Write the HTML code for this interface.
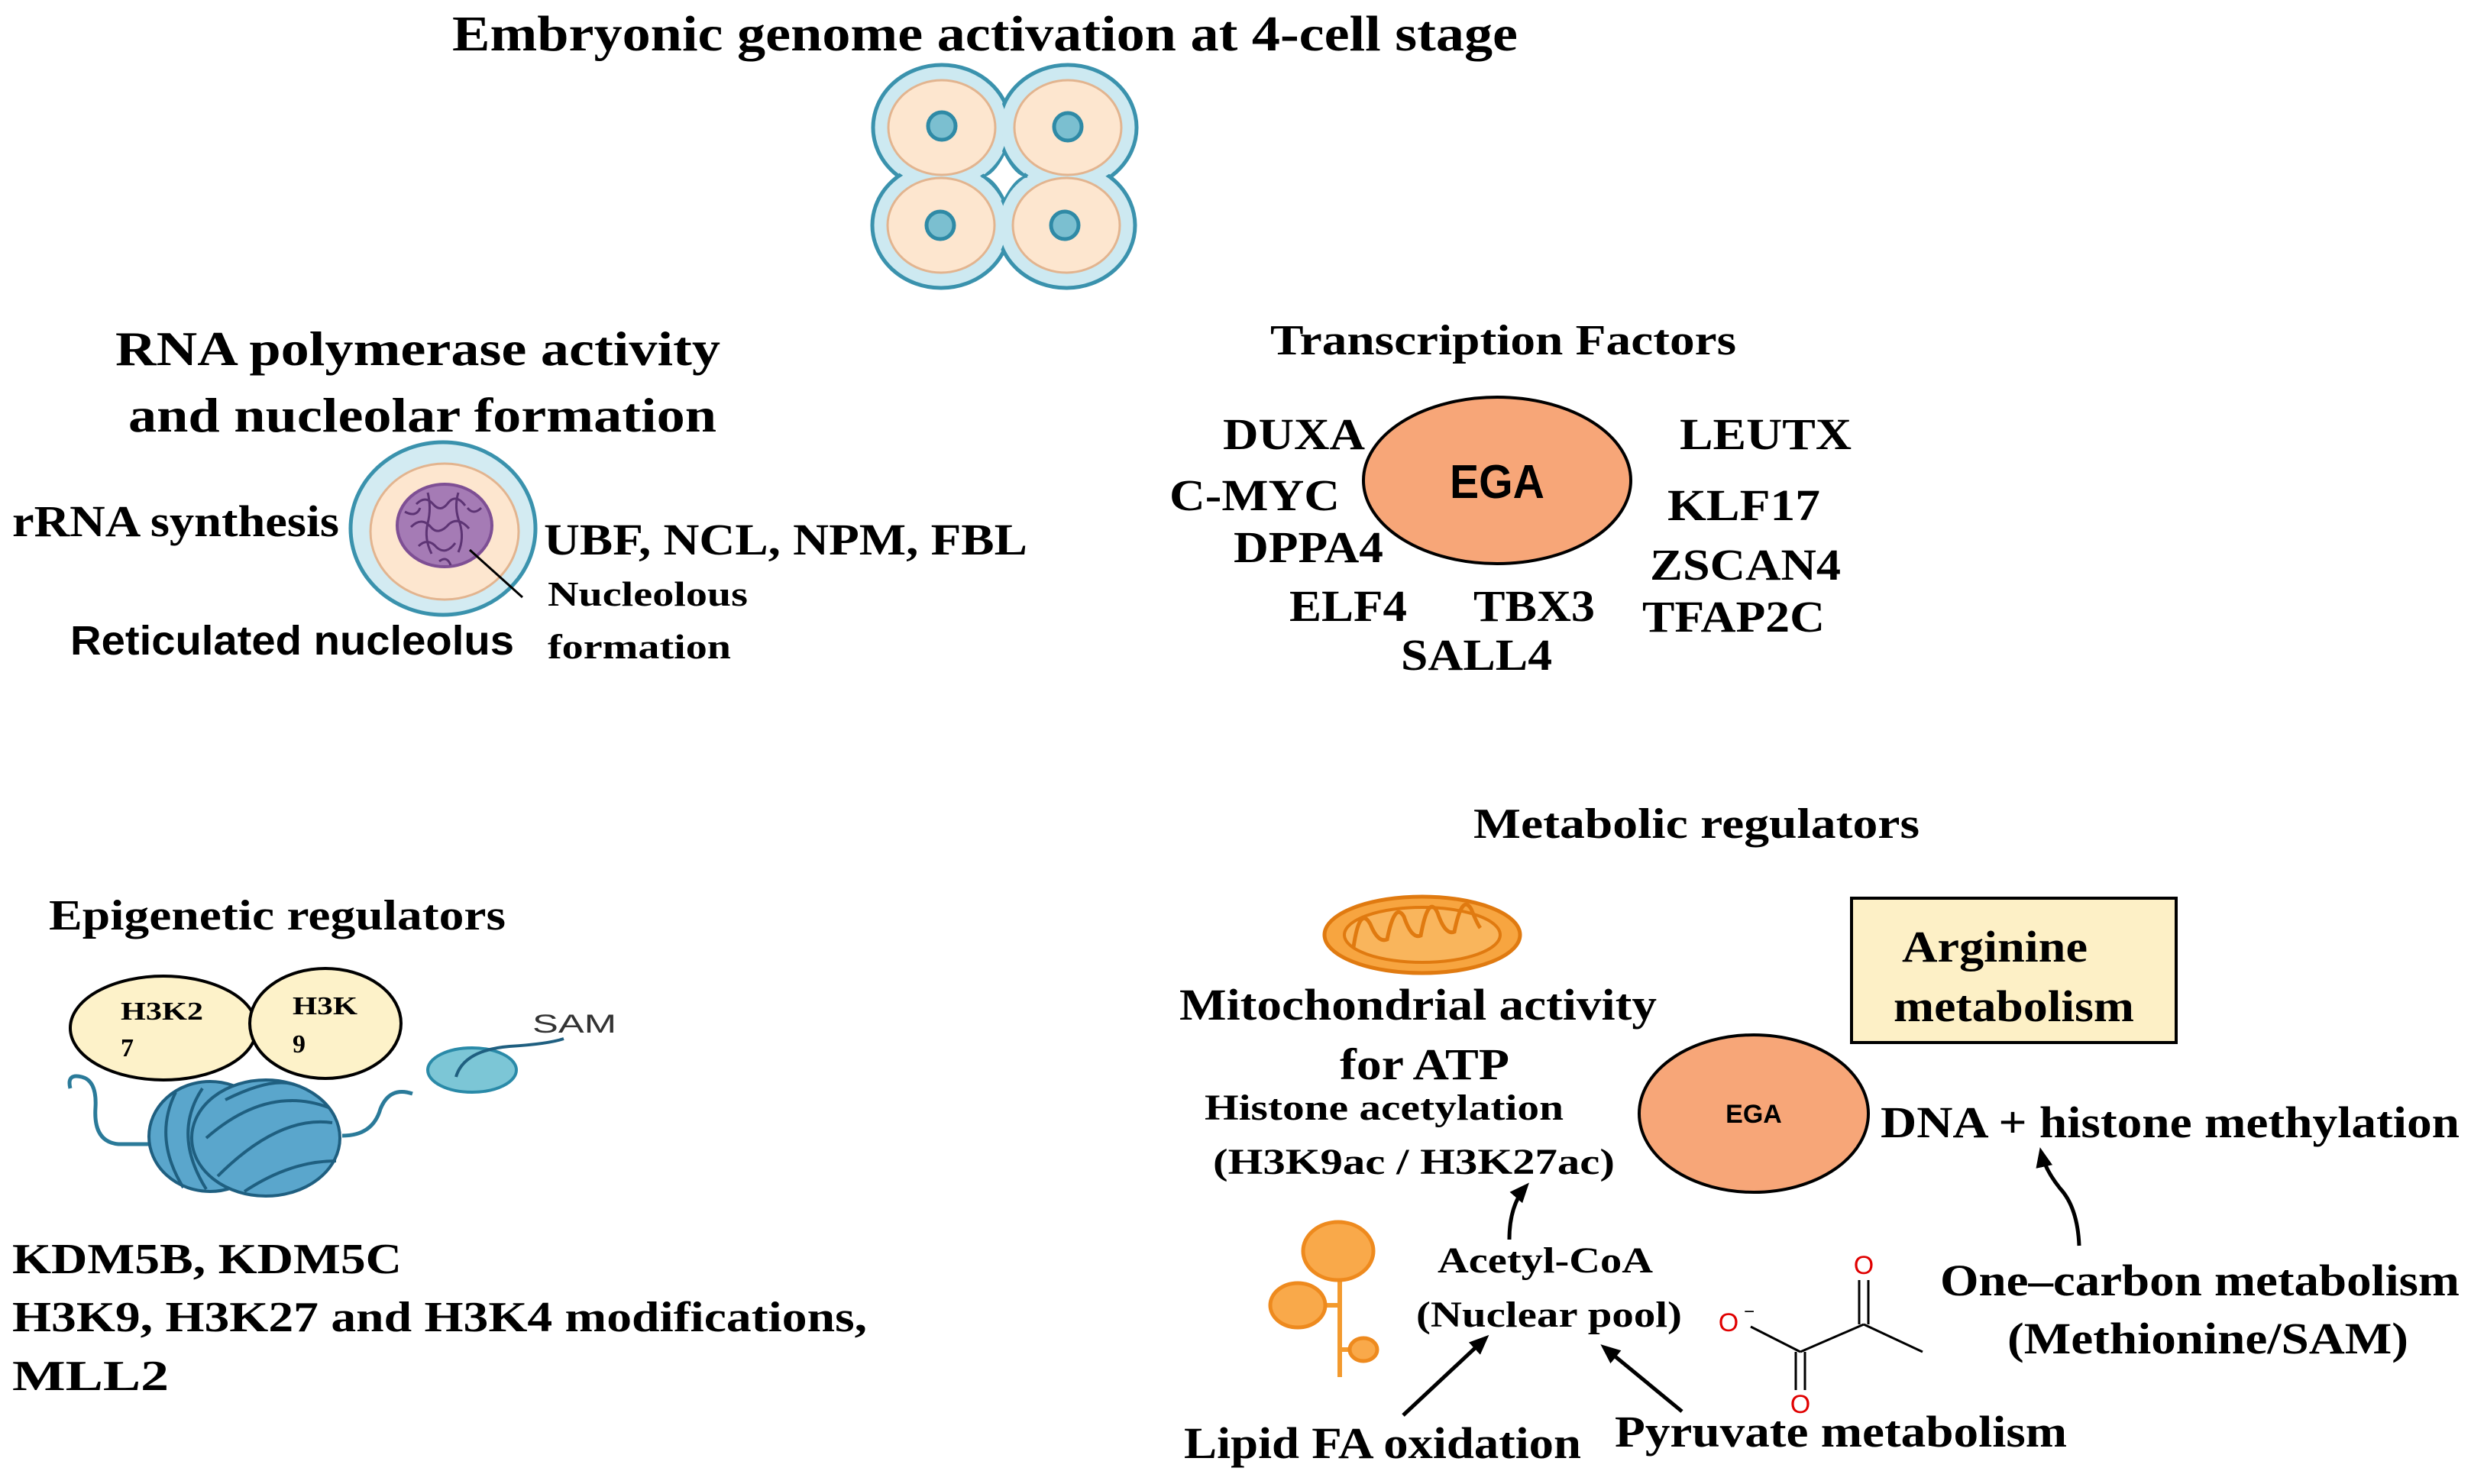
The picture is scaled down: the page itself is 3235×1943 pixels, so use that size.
<!DOCTYPE html>
<html><head><meta charset="utf-8"><style>
html,body{margin:0;padding:0;background:#fff;}
svg{display:block;}
text{font-family:"Liberation Serif",serif;font-weight:bold;fill:#000;}
.s{font-family:"Liberation Sans",sans-serif;}
.red{fill:#e00000;font-weight:normal;}
</style></head><body>
<svg width="3235" height="1943" viewBox="0 0 3235 1943" xmlns="http://www.w3.org/2000/svg">
<defs>
<marker id="ah2" markerWidth="26" markerHeight="26" refX="20" refY="13" orient="auto" markerUnits="userSpaceOnUse"><path d="M0,2 L26,13 L0,24 z" fill="#000"/></marker>
</defs>
<rect width="3235" height="1943" fill="#fff"/>

<text x="592" y="66" font-size="66" textLength="1395" lengthAdjust="spacingAndGlyphs">Embryonic genome activation at 4-cell stage</text>

<!-- 4-cell embryo -->
<g stroke="#3a92ad" stroke-width="5" fill="#cde9f1">
<ellipse cx="1233" cy="167" rx="90" ry="82"/>
<ellipse cx="1398" cy="167" rx="90" ry="82"/>
<ellipse cx="1232" cy="295" rx="90" ry="82"/>
<ellipse cx="1396" cy="295" rx="90" ry="82"/>
</g>
<g fill="#cde9f1">
<ellipse cx="1233" cy="167" rx="86" ry="78"/>
<ellipse cx="1398" cy="167" rx="86" ry="78"/>
<ellipse cx="1232" cy="295" rx="86" ry="78"/>
<ellipse cx="1396" cy="295" rx="86" ry="78"/>
</g>
<path d="M1315,200 Q1330,230 1345,231 Q1330,232 1315,262 Q1300,232 1285,231 Q1300,230 1315,200z" fill="#fff" stroke="#3a92ad" stroke-width="3"/>
<g fill="#fde6cf" stroke="#e2b48f" stroke-width="3">
<ellipse cx="1233" cy="167" rx="70" ry="62"/>
<ellipse cx="1398" cy="167" rx="70" ry="62"/>
<ellipse cx="1232" cy="295" rx="70" ry="62"/>
<ellipse cx="1396" cy="295" rx="70" ry="62"/>
</g>
<g fill="#7bbfd0" stroke="#2f8aa6" stroke-width="5">
<circle cx="1233" cy="165" r="18"/><circle cx="1398" cy="166" r="18"/>
<circle cx="1231" cy="295" r="18"/><circle cx="1394" cy="295" r="18"/>
</g>

<!-- RNA polymerase -->
<text x="151" y="478" font-size="64" textLength="792" lengthAdjust="spacingAndGlyphs">RNA polymerase activity</text>
<text x="168" y="565" font-size="64" textLength="770" lengthAdjust="spacingAndGlyphs">and nucleolar formation</text>
<ellipse cx="580" cy="692" rx="121" ry="113" fill="#d3ebf2" stroke="#3a92ad" stroke-width="5"/>
<ellipse cx="582" cy="696" rx="97" ry="89" fill="#fde6cf" stroke="#e2b48f" stroke-width="3"/>
<ellipse cx="582" cy="688" rx="62" ry="54" fill="#a57bb5" stroke="#7e4f94" stroke-width="4"/>
<path d="M545,660 q12,-12 22,0 q10,12 20,-2 q10,-12 22,4 M538,690 q14,-14 26,0 q10,12 24,-4 q12,-10 26,6 M548,715 q12,-12 24,2 q12,10 24,-6 M560,645 q5,20 0,40 q-5,20 5,40 M600,645 q-6,20 2,40 q6,20 -2,38 M530,670 q15,8 20,-5 M612,665 q8,10 18,0 M575,735 q10,-8 15,5" fill="none" stroke="#5d3474" stroke-width="3"/>
<line x1="615" y1="720" x2="684" y2="782" stroke="#000" stroke-width="3"/>
<text x="16" y="702" font-size="58" textLength="428" lengthAdjust="spacingAndGlyphs">rRNA synthesis</text>
<text x="712" y="726" font-size="58" textLength="633" lengthAdjust="spacingAndGlyphs">UBF, NCL, NPM, FBL</text>
<text x="717" y="793" font-size="46" textLength="262" lengthAdjust="spacingAndGlyphs">Nucleolous</text>
<text x="717" y="862" font-size="46" textLength="240" lengthAdjust="spacingAndGlyphs">formation</text>
<text class="s" x="92" y="857" font-size="54" textLength="581" lengthAdjust="spacingAndGlyphs">Reticulated nucleolus</text>

<!-- Transcription factors -->
<text x="1663" y="464" font-size="56" textLength="610" lengthAdjust="spacingAndGlyphs">Transcription Factors</text>
<ellipse cx="1960" cy="629" rx="175" ry="109" fill="#f7a678" stroke="#000" stroke-width="4"/>
<text class="s" x="1898" y="652" font-size="62" textLength="124" lengthAdjust="spacingAndGlyphs">EGA</text>
<g font-size="58">
<text x="1601" y="588" textLength="186" lengthAdjust="spacingAndGlyphs">DUXA</text>
<text x="1531" y="668" textLength="223" lengthAdjust="spacingAndGlyphs">C-MYC</text>
<text x="1615" y="736" textLength="196" lengthAdjust="spacingAndGlyphs">DPPA4</text>
<text x="1688" y="813" textLength="154" lengthAdjust="spacingAndGlyphs">ELF4</text>
<text x="1929" y="813" textLength="159" lengthAdjust="spacingAndGlyphs">TBX3</text>
<text x="1834" y="877" textLength="198" lengthAdjust="spacingAndGlyphs">SALL4</text>
<text x="2199" y="588" textLength="225" lengthAdjust="spacingAndGlyphs">LEUTX</text>
<text x="2183" y="681" textLength="200" lengthAdjust="spacingAndGlyphs">KLF17</text>
<text x="2160" y="759" textLength="250" lengthAdjust="spacingAndGlyphs">ZSCAN4</text>
<text x="2150" y="827" textLength="239" lengthAdjust="spacingAndGlyphs">TFAP2C</text>
</g>

<!-- Epigenetic -->
<text x="64" y="1217" font-size="56" textLength="598" lengthAdjust="spacingAndGlyphs">Epigenetic regulators</text>
<path d="M92,1425 q-5,-20 15,-15 q20,5 18,40 q-3,45 30,48 l40,0" fill="none" stroke="#2a7a99" stroke-width="5"/>
<path d="M448,1487 q40,0 50,-35 q12,-30 42,-20" fill="none" stroke="#2a7a99" stroke-width="5"/>
<ellipse cx="275" cy="1488" rx="80" ry="72" fill="#5aa6cc" stroke="#1f5f80" stroke-width="4"/>
<ellipse cx="348" cy="1490" rx="97" ry="76" fill="#5aa6cc" stroke="#1f5f80" stroke-width="4"/>
<path d="M230,1430 q-30,60 10,125 M265,1425 q-40,60 5,132 M295,1440 q60,-30 90,-20 M270,1490 q80,-70 160,-40 M285,1540 q80,-80 150,-70 M320,1560 q60,-40 120,-40" fill="none" stroke="#1f5f80" stroke-width="4"/>
<ellipse cx="214" cy="1346" rx="122" ry="68" fill="#fdf2c9" stroke="#000" stroke-width="4"/>
<ellipse cx="426" cy="1340" rx="99" ry="72" fill="#fdf2c9" stroke="#000" stroke-width="4"/>
<g font-size="34">
<text x="158" y="1335" textLength="108" lengthAdjust="spacingAndGlyphs">H3K2</text>
<text x="158" y="1383">7</text>
<text x="383" y="1328" textLength="85" lengthAdjust="spacingAndGlyphs">H3K</text>
<text x="383" y="1378">9</text>
</g>
<ellipse cx="618" cy="1401" rx="58" ry="29" fill="#7cc6d6" stroke="#2a8aa8" stroke-width="4"/>
<path d="M597,1410 q10,-35 70,-40 q50,-3 71,-10" fill="none" stroke="#1f5f80" stroke-width="4"/>
<text class="s" x="697" y="1352" font-size="34" style="font-weight:normal;fill:#333" textLength="110" lengthAdjust="spacingAndGlyphs">SAM</text>
<g font-size="56">
<text x="16" y="1667" textLength="510" lengthAdjust="spacingAndGlyphs">KDM5B, KDM5C</text>
<text x="16" y="1743" textLength="1119" lengthAdjust="spacingAndGlyphs">H3K9, H3K27 and H3K4 modifications,</text>
<text x="16" y="1820" textLength="205" lengthAdjust="spacingAndGlyphs">MLL2</text>
</g>

<!-- Metabolic -->
<text x="1929" y="1097" font-size="56" textLength="584" lengthAdjust="spacingAndGlyphs">Metabolic regulators</text>
<ellipse cx="1862" cy="1224" rx="128" ry="50" fill="#f7a540" stroke="#e07a10" stroke-width="5"/>
<ellipse cx="1862" cy="1224" rx="102" ry="36" fill="#f9b55c" stroke="#e07a10" stroke-width="4"/>
<path d="M1772,1240 q8,-55 22,-30 q10,25 22,20 q10,-50 22,-30 q10,30 22,25 q10,-55 22,-30 q10,30 22,25 q10,-50 22,-30 q8,20 12,25" fill="none" stroke="#e07a10" stroke-width="5"/>
<text x="1544" y="1335" font-size="58" textLength="625" lengthAdjust="spacingAndGlyphs">Mitochondrial activity</text>
<text x="1754" y="1413" font-size="58" textLength="222" lengthAdjust="spacingAndGlyphs">for ATP</text>
<text x="1577" y="1466" font-size="48" textLength="470" lengthAdjust="spacingAndGlyphs">Histone acetylation</text>
<text x="1588" y="1537" font-size="48" textLength="526" lengthAdjust="spacingAndGlyphs">(H3K9ac / H3K27ac)</text>

<rect x="2424" y="1176" width="425" height="189" fill="#fdf0c6" stroke="#000" stroke-width="4"/>
<text x="2490" y="1259" font-size="58" textLength="243" lengthAdjust="spacingAndGlyphs">Arginine</text>
<text x="2479" y="1337" font-size="58" textLength="315" lengthAdjust="spacingAndGlyphs">metabolism</text>
<ellipse cx="2296" cy="1458" rx="150" ry="103" fill="#f7a678" stroke="#000" stroke-width="4"/>
<text class="s" x="2296" y="1470" font-size="34" text-anchor="middle">EGA</text>
<text x="2462" y="1489" font-size="58" textLength="758" lengthAdjust="spacingAndGlyphs">DNA + histone methylation</text>
<path d="M2722,1631 q-2,-50 -25,-75 q-20,-25 -25,-48" fill="none" stroke="#000" stroke-width="5" marker-end="url(#ah2)"/>

<!-- lipid droplet -->
<line x1="1754" y1="1676" x2="1754" y2="1803" stroke="#f39a2e" stroke-width="6"/>
<line x1="1700" y1="1709" x2="1754" y2="1709" stroke="#f39a2e" stroke-width="6"/>
<line x1="1754" y1="1767" x2="1785" y2="1767" stroke="#f39a2e" stroke-width="6"/>
<ellipse cx="1752" cy="1638" rx="46" ry="38" fill="#f9a94a" stroke="#ee8a1e" stroke-width="5"/>
<ellipse cx="1699" cy="1709" rx="36" ry="29" fill="#f9a94a" stroke="#ee8a1e" stroke-width="5"/>
<ellipse cx="1785" cy="1767" rx="18" ry="15" fill="#f9a94a" stroke="#ee8a1e" stroke-width="5"/>

<text x="1882" y="1666" font-size="48" textLength="282" lengthAdjust="spacingAndGlyphs">Acetyl-CoA</text>
<text x="1854" y="1737" font-size="48" textLength="348" lengthAdjust="spacingAndGlyphs">(Nuclear pool)</text>
<path d="M1976,1623 q0,-45 22,-70" fill="none" stroke="#000" stroke-width="5" marker-end="url(#ah2)"/>
<line x1="1837" y1="1853" x2="1945" y2="1752" stroke="#000" stroke-width="5" marker-end="url(#ah2)"/>
<line x1="2202" y1="1848" x2="2100" y2="1764" stroke="#000" stroke-width="5" marker-end="url(#ah2)"/>

<!-- pyruvate -->
<g stroke="#000" stroke-width="3" fill="none">
<path d="M2434,1676 L2434,1734 M2446,1676 L2446,1734"/>
<path d="M2440,1734 L2517,1770 M2440,1734 L2357,1770 M2357,1770 L2292,1737"/>
<path d="M2351,1770 L2351,1820 M2363,1770 L2363,1820"/>
</g>
<text class="s red" x="2440" y="1668" font-size="34" text-anchor="middle">O</text>
<text class="s red" x="2357" y="1850" font-size="34" text-anchor="middle">O</text>
<text class="s red" x="2263" y="1743" font-size="34" text-anchor="middle">O</text>
<text class="s" x="2283" y="1725" font-size="24" style="font-weight:normal">−</text>

<text x="2540" y="1696" font-size="58" textLength="680" lengthAdjust="spacingAndGlyphs">One–carbon metabolism</text>
<text x="2628" y="1772" font-size="58" textLength="525" lengthAdjust="spacingAndGlyphs">(Methionine/SAM)</text>
<text x="1550" y="1909" font-size="58" textLength="520" lengthAdjust="spacingAndGlyphs">Lipid FA oxidation</text>
<text x="2114" y="1894" font-size="58" textLength="592" lengthAdjust="spacingAndGlyphs">Pyruvate metabolism</text>
</svg>
</body></html>
